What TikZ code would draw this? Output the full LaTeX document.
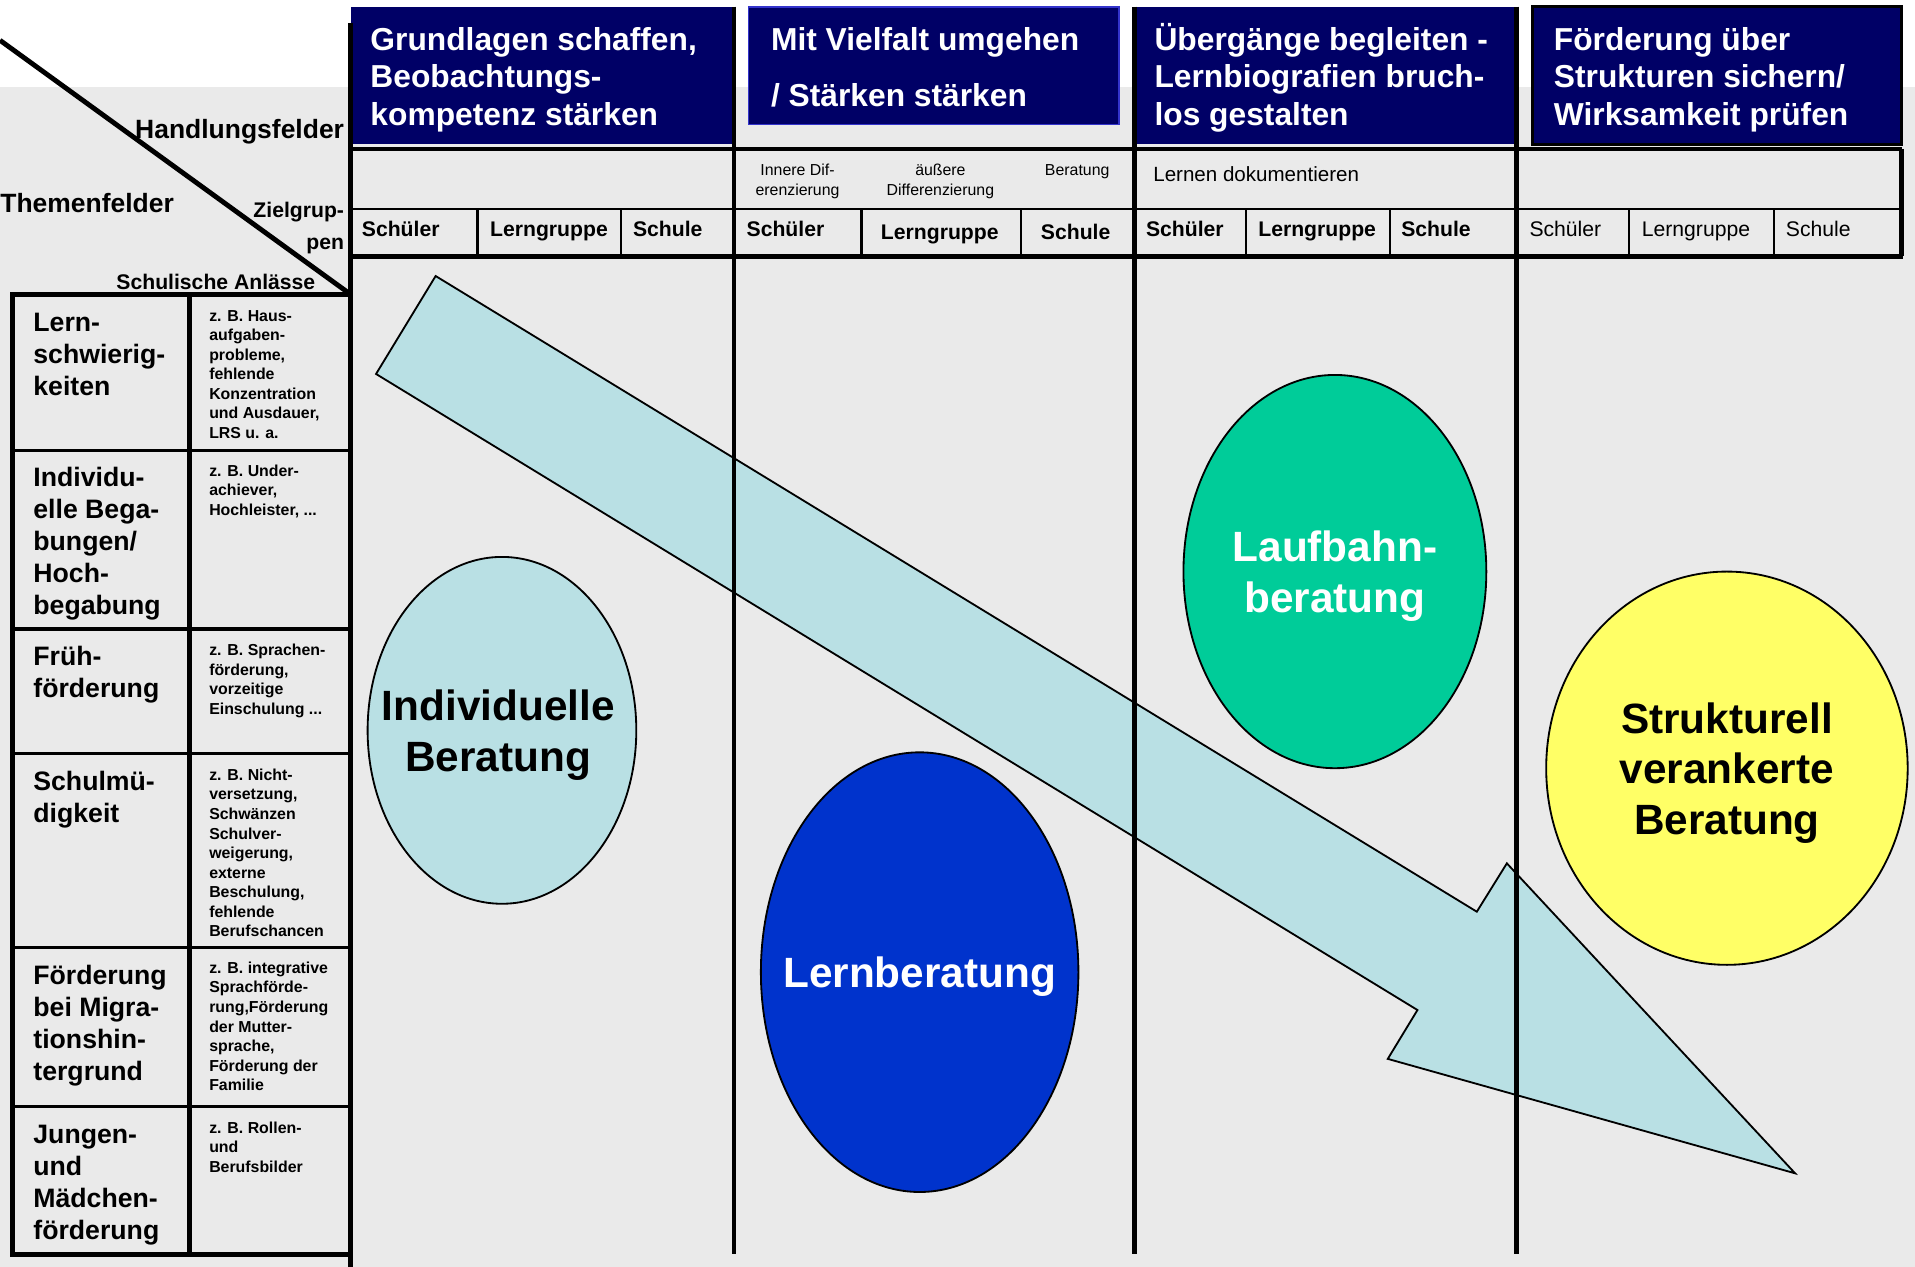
\documentclass[tikz,border=0pt]{standalone}
\usepackage{fontspec}
\setmainfont{Liberation Sans}
\usetikzlibrary{shapes.geometric}
\definecolor{navy}{HTML}{000066}
\definecolor{bggray}{HTML}{EAEAEA}
\definecolor{lblue}{HTML}{B9E0E4}
\definecolor{dblue}{HTML}{0033CC}
\definecolor{tealg}{HTML}{00CC99}
\definecolor{yell}{HTML}{FFFF66}
\definecolor{boxedge}{HTML}{3333CC}
\begin{document}
\begin{tikzpicture}[x=0.6pt,y=-0.6pt,
  hdr/.style={anchor=base west,inner sep=0pt,align=left,text=white,font=\fontsize{15.6}{18.6}\selectfont\bfseries},
  big/.style={anchor=base west,inner sep=0pt,align=left,font=\fontsize{13.1}{15.8}\selectfont\bfseries},
  small/.style={anchor=base west,inner sep=0pt,align=left,font=\fontsize{7.8}{9.6}\selectfont\bfseries},
  axis/.style={inner sep=0pt,font=\fontsize{13}{15.6}\selectfont\bfseries},
  axs/.style={inner sep=0pt,font=\fontsize{10.4}{15.6}\selectfont\bfseries},
  cellb/.style={anchor=base west,inner sep=0pt,font=\fontsize{10.4}{12}\selectfont\bfseries},
  cellr/.style={anchor=base west,inner sep=0pt,font=\fontsize{10.4}{12}\selectfont},
  tiny/.style={anchor=base,inner sep=0pt,align=center,font=\fontsize{7.8}{9.6}\selectfont},
  ell/.style={ellipse,inner sep=0pt,draw=black,line width=0.9pt},
  elltext/.style={inner sep=0pt,align=center,font=\fontsize{20.8}{25}\selectfont\bfseries},
  heavy/.style={line width=2.4pt},
  medium/.style={line width=1.5pt},
  light/.style={line width=1.1pt}]
\useasboundingbox (0,0) rectangle (1568,1037);
% background
\fill[white] (0,0) rectangle (1568,1037);
\fill[bggray] (0,71) rectangle (1568,1037);

% big arrow
\draw[fill=lblue,line width=0.9pt,line join=miter]
  (356.7,226) -- (1209.2,746.5) -- (1233.8,706.9) -- (1469.8,960.7)
  -- (1136.3,867) -- (1160.6,827) -- (307.9,306.2) -- cycle;

% ellipses
\node[ell,fill=lblue,minimum width=132pt,minimum height=170.4pt] (indiv) at (411,598) {};
\node[ell,fill=dblue,minimum width=156pt,minimum height=216pt] (lern) at (753,796) {};
\node[ell,fill=tealg,minimum width=148.8pt,minimum height=193.2pt] (lauf) at (1093,468) {};
\node[ell,fill=yell,minimum width=177.6pt,minimum height=193.2pt] (strukt) at (1414,629) {};
\node[elltext] (indivT) at (408,602) {Individuelle\\Beratung};
\node[elltext,text=white] (lernT) at (753,800) {Lernberatung};
\node[elltext,text=white] (laufT) at (1093,472) {Laufbahn-\\beratung};
\node[elltext] (struktT) at (1414,633) {Strukturell\\verankerte\\Beratung};

% header boxes
\fill[navy] (287,5.5) rectangle (601,118);
\draw[fill=navy,draw=boxedge,line width=0.8pt] (613,5.5) rectangle (916,102);
\fill[navy] (929,5.5) rectangle (1242,118);
\draw[fill=navy,draw=black,line width=1.5pt] (1255,5.5) rectangle (1557,118);

% (anchor base = baseline of the last line)
\node[hdr] (h1) at (303,103) {Grundlagen schaffen,\\Beobachtungs-\\kompetenz stärken};
\node[hdr,font=\fontsize{15.6}{27.6}\selectfont\bfseries] (h2) at (631,87) {Mit Vielfalt umgehen\\/ Stärken stärken};
\node[hdr] (h3) at (945,103) {Übergänge begleiten -\\Lernbiografien bruch-\\los gestalten};
\node[hdr] (h4) at (1272,103) {Förderung über\\Strukturen sichern/\\Wirksamkeit prüfen};

% column lines
\draw[heavy] (287,19) -- (287,1037);
\draw[heavy] (601,5.5) -- (601,1027);
\draw[heavy] (929,5.5) -- (929,1027);
\draw[heavy] (1242,5.5) -- (1242,1027);

% header table
\draw[heavy] (287,122) -- (1557,122);
\draw[light] (287,171) -- (1557,171);
\draw[heavy] (287,210) -- (1558.2,210);
\draw[heavy] (1557,122) -- (1557,210);
\foreach \xx in {391,508.5,705.3,836,1020,1138,1334,1452.5}
  \draw[light] (\xx,171) -- (\xx,210);

% row 1 texts
\node[tiny] (d1) at (653,160) {Innere Dif-\\erenzierung};
\node[tiny] (d2) at (770,160) {äußere\\Differenzierung};
\node[tiny] (d3) at (882,144) {Beratung};
\node[cellr,font=\fontsize{10.1}{12}\selectfont] (doc) at (944,149) {Lernen dokumentieren};

% row 2 texts
\node[cellb] (s1) at (296,194) {Schüler};
\node[cellb] (g1) at (401,194) {Lerngruppe};
\node[cellb] (c1) at (518,194) {Schule};
\node[cellb] (s2) at (611,194) {Schüler};
\node[cellb] (g2) at (721,196) {Lerngruppe};
\node[cellb] (c2) at (852,196) {Schule};
\node[cellb] (s3) at (938,194) {Schüler};
\node[cellb] (g3) at (1030,194) {Lerngruppe};
\node[cellb] (c3) at (1147,194) {Schule};
\node[cellr] (s4) at (1252,194) {Schüler};
\node[cellr] (g4) at (1344,194) {Lerngruppe};
\node[cellr] (c4) at (1462,194) {Schule};

% corner labels and diagonal
\draw[heavy] (0,33) -- (287,241);
\node[axis,anchor=base east] (hf) at (282,113) {Handlungsfelder};
\node[axis,anchor=base west] (tf) at (0,174) {Themenfelder};
\node[axs,anchor=base east] (zg1) at (282,178) {Zielgrup-};
\node[axs,anchor=base east] (zg2) at (282,204) {pen};
\node[axs,anchor=base west] (sa) at (95,237) {Schulische Anlässe};

% left table
\draw[heavy] (287,241) -- (10,241) -- (10,1027) -- (287,1027);
\draw[heavy] (155,241) -- (155,1027);
\foreach \yy in {368.5,515,617,776,906}
  \draw[medium] (10,\yy) -- (287,\yy);

\node[big] (t1) at (27,323.7) {Lern-\\schwierig-\\keiten};
\node[big] (t2) at (27,503.3) {Individu-\\elle Bega-\\bungen/\\Hoch-\\begabung};
\node[big] (t3) at (27,571.3) {Früh-\\förderung};
\node[big] (t4) at (27,673.3) {Schulmü-\\digkeit};
\node[big] (t5) at (27,885) {Förderung\\bei Migra-\\tionshin-\\tergrund};
\node[big] (t6) at (27,1015) {Jungen-\\und\\Mädchen-\\förderung};

\node[small] (e1) at (171,359) {z. B. Haus-\\aufgaben-\\probleme,\\fehlende\\Konzentration\\und Ausdauer,\\LRS u. a.};
\node[small] (e2) at (171,422) {z. B. Under-\\achiever,\\Hochleister, ...};
\node[small] (e3) at (171,585) {z. B. Sprachen-\\förderung,\\vorzeitige\\Einschulung ...};
\node[small] (e4) at (171,767) {z. B. Nicht-\\versetzung,\\Schwänzen\\Schulver-\\weigerung,\\externe\\Beschulung,\\fehlende\\Berufschancen};
\node[small] (e5) at (171,893) {z. B. integrative\\Sprachförde-\\rung,Förderung\\der Mutter-\\sprache,\\Förderung der\\Familie};
\node[small] (e6) at (171,960) {z. B. Rollen-\\und\\Berufsbilder};
\end{tikzpicture}
\end{document}
